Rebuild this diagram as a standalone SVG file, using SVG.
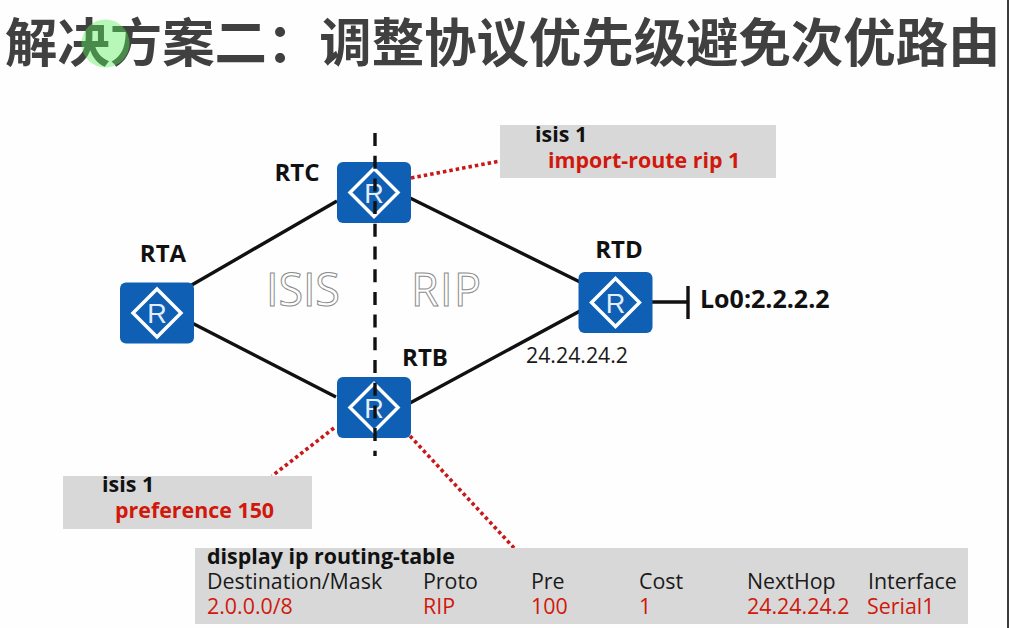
<svg xmlns="http://www.w3.org/2000/svg" width="1009" height="628" viewBox="0 0 1009 628">
<style>
text{font-family:"Open Sans","Noto Sans","Noto Sans CJK SC",sans-serif;fill:#1a1a1a}
.title{font-family:"Noto Sans CJK SC",sans-serif;font-weight:700;font-size:52.4px;fill:#404040}
.b{font-weight:700;font-size:21.400px;fill:#111}
.h{font-weight:700;font-size:24px;fill:#111;text-anchor:middle}
.red{fill:#d0180c}
.t{font-size:21.400px}
.panel{fill:#d8d8d8}
.link{stroke:#111;stroke-width:3.4;fill:none}
.dot{stroke:#c9181a;stroke-width:3.6;stroke-dasharray:3.500 3;fill:none}
.outline{font-size:45px;font-weight:400;fill:#fff;stroke:#8c8c8c;stroke-width:1}
.body{fill:#0f5fb4}
.dia{fill:none;stroke:#fff;stroke-width:3.4}
.r{font-size:27px;fill:#e3eefa;text-anchor:middle;font-family:"Liberation Sans",sans-serif}
</style>
<defs>
<g id="router">
<rect x="-37" y="-30.500" width="74" height="61" rx="6" class="body"/>
<path d="M0-24 24 0 0 24-24 0Z" class="dia"/>
<text class="r" y="10">R</text>
</g>
</defs>
<rect width="1009" height="628" fill="#fefefe"/>
<!-- frame edge on the right -->
<rect x="1007" width="2" height="628" fill="#3c3c3c"/>
<text class="title" x="5" y="62">解决方案二：调整协议优先级避免次优路由</text>
<circle cx="105.500" cy="43.500" r="24" fill="#56ee56" fill-opacity=".42"/>
<g id="connectors">
<path class="link" d="M190 286 337 201M192 323 336 397M410 198 580 282M410 403 580 311M652 302H688"/>
<path class="link" d="M688 286V319"/>
<path class="dot" d="M411 178 500 161M334 428 272 476M410 436 514 548"/>
</g>
<g id="RTA"><use href="#router" x="157" y="313"/><text class="h" x="163" y="262">RTA</text></g>
<g id="RTC"><use href="#router" x="374" y="192.500"/><text class="h" x="297" y="181">RTC</text></g>
<g id="RTB"><use href="#router" x="374" y="407.500"/><text class="h" x="425" y="366">RTB</text></g>
<g id="RTD"><use href="#router" x="615.500" y="302.500"/><text class="h" x="619" y="258">RTD</text></g>
<path stroke="#111" stroke-width="3.4" stroke-dasharray="13 9.700" d="M375 133V456" fill="none"/>
<text class="outline" x="266" y="306" textLength="74">ISIS</text>
<text class="outline" x="411" y="306" textLength="70">RIP</text>
<text class="b" x="700" y="308" style="font-size:25px">Lo0:2.2.2.2</text>
<text class="t" x="526" y="363" style="font-size:21.300px">24.24.24.2</text>
<g id="note-rtc"><rect class="panel" x="500" y="125" width="276" height="53"/>
<text class="b" x="535" y="142">isis 1</text><text class="b red" x="548" y="168">import-route rip 1</text></g>
<g id="note-rtb"><rect class="panel" x="63" y="476" width="249" height="53"/>
<text class="b" x="102" y="492">isis 1</text><text class="b red" x="115" y="518">preference 150</text></g>
<g id="table"><rect class="panel" x="195" y="548" width="773" height="76"/>
<text class="b" x="207" y="564">display ip routing-table</text>
<text class="t" x="207" y="589">Destination/Mask</text><text class="t" x="423" y="589">Proto</text><text class="t" x="531" y="589">Pre</text><text class="t" x="639" y="589">Cost</text><text class="t" x="747" y="589">NextHop</text><text class="t" x="868" y="589">Interface</text>
<text class="t red" x="207" y="614">2.0.0.0/8</text><text class="t red" x="423" y="614">RIP</text><text class="t red" x="531" y="614">100</text><text class="t red" x="639" y="614">1</text><text class="t red" x="747" y="614">24.24.24.2</text><text class="t red" x="867" y="614">Serial1</text></g>
</svg>
